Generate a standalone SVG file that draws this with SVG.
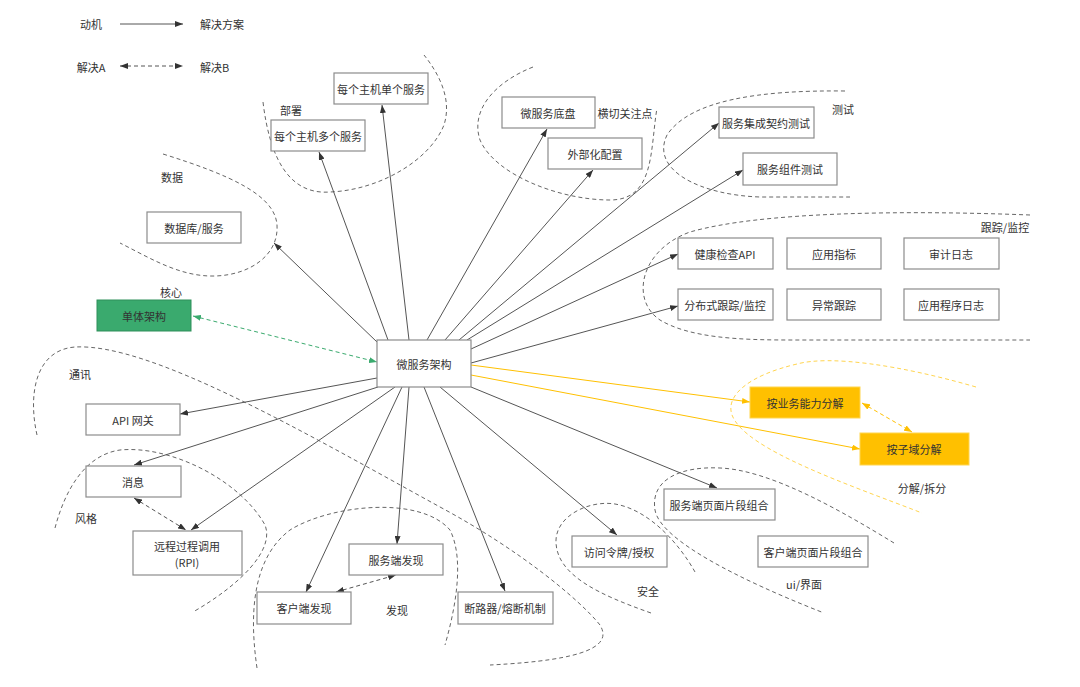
<svg xmlns="http://www.w3.org/2000/svg" width="1080" height="687" viewBox="0 0 1080 687">
<style>
text{font-family:"Noto Sans CJK SC","Liberation Sans",sans-serif;font-size:11px;fill:#333;text-anchor:middle;dominant-baseline:central}
.box{fill:#fff;stroke:#8c8c8c;stroke-width:1.2}
.green{fill:#3aaa6e;stroke:#2f8f5a;stroke-width:1}
.yellow{fill:#ffc000;stroke:#ffd54f;stroke-width:1}
.ln{stroke:#555;stroke-width:1;fill:none;marker-end:url(#ab)}
.dl{stroke:#555;stroke-width:1;fill:none;stroke-dasharray:4,3;marker-end:url(#ab);marker-start:url(#ab)}
.yl{stroke:#ffc000;stroke-width:1;fill:none;marker-end:url(#ay)}
.ydl{stroke:#ffc000;stroke-width:1;fill:none;stroke-dasharray:4,3;marker-end:url(#ay);marker-start:url(#ay)}
.gdl{stroke:#3aaa6e;stroke-width:1;fill:none;stroke-dasharray:4,3;marker-end:url(#ag);marker-start:url(#ag)}
.reg{stroke:#666;stroke-width:1;fill:none;stroke-dasharray:4,3}
.yreg{stroke:#ffd54f;stroke-width:1;fill:none;stroke-dasharray:4,3}
</style>
<defs>
<marker id="ab" viewBox="0 0 8 6" refX="8" refY="3" markerWidth="8" markerHeight="6" markerUnits="userSpaceOnUse" orient="auto-start-reverse"><path d="M0,0 L8,3 L0,6 z" fill="#333"/></marker>
<marker id="ay" viewBox="0 0 8 6" refX="8" refY="3" markerWidth="8" markerHeight="6" markerUnits="userSpaceOnUse" orient="auto-start-reverse"><path d="M0,0 L8,3 L0,6 z" fill="#ffc000"/></marker>
<marker id="ag" viewBox="0 0 8 6" refX="8" refY="3" markerWidth="8" markerHeight="6" markerUnits="userSpaceOnUse" orient="auto-start-reverse"><path d="M0,0 L8,3 L0,6 z" fill="#3aaa6e"/></marker>
</defs>
<rect width="1080" height="687" fill="#fff"/>

<g id="legend">
<text x="91" y="24">动机</text>
<line x1="120" y1="24" x2="183" y2="24" class="ln"/>
<text x="200" y="24" style="text-anchor:start">解决方案</text>
<text x="91" y="67">解决A</text>
<line x1="120" y1="66" x2="183" y2="66" class="dl"/>
<text x="200" y="67" style="text-anchor:start">解决B</text>
</g>

<g id="regions">
<path class="reg" d="M263,102 C270,160 290,195 330,192 C380,190 430,160 444,125 C452,100 440,75 424,55"/>
<path class="reg" d="M163,154 C230,175 275,195 277,225 C279,255 250,275 215,276 C180,277 150,258 120,243"/>
<path class="reg" d="M533,67 C495,82 470,110 480,140 C495,175 560,200 610,200 C655,200 650,150 657,108"/>
<path class="reg" d="M845,91 C760,90 690,100 667,135 C650,170 700,195 760,197 L850,197"/>
<path class="reg" d="M1030,215 C900,210 760,212 690,232 C640,250 630,300 660,320 C690,338 740,340 790,340 L1030,340"/>
<path class="reg" d="M37,435 C28,395 35,350 75,347 C150,343 300,430 440,507 C520,550 580,600 600,625 C612,645 590,660 490,665"/>
<path class="reg" d="M55,528 C65,490 85,455 120,450 C170,445 240,480 265,525 C275,550 240,585 193,612"/>
<path class="reg" d="M257,668 C250,620 250,560 290,530 C330,505 420,495 450,530 C465,560 455,610 445,645"/>
<path class="reg" d="M651,613 C600,595 555,575 556,540 C557,515 590,500 615,504 C650,510 680,545 695,572"/>
<path class="reg" d="M894,543 C840,510 770,470 720,468 C680,466 650,480 655,510 C660,540 740,580 824,613"/>
<path class="yreg" d="M976,387 C900,365 830,355 797,364 C750,375 725,395 732,415 C745,450 850,485 922,513"/>
</g>

<g id="labels">
<text x="291" y="110">部署</text>
<text x="172" y="177">数据</text>
<text x="625" y="113">横切关注点</text>
<text x="843" y="109">测试</text>
<text x="1005" y="227">跟踪/监控</text>
<text x="171" y="292">核心</text>
<text x="80" y="374">通讯</text>
<text x="86" y="518">风格</text>
<text x="397" y="610">发现</text>
<text x="648" y="591">安全</text>
<text x="804" y="584">ui/界面</text>
<text x="922" y="488">分解/拆分</text>
</g>

<g id="connectors">
<line x1="409" y1="340" x2="382" y2="105" class="ln"/>
<line x1="388" y1="340" x2="319" y2="152" class="ln"/>
<line x1="377" y1="342" x2="274" y2="243" class="ln"/>
<line x1="427" y1="340" x2="547" y2="129" class="ln"/>
<line x1="445" y1="340" x2="593" y2="170" class="ln"/>
<line x1="459" y1="340" x2="719" y2="123" class="ln"/>
<line x1="467" y1="340" x2="743" y2="170" class="ln"/>
<line x1="471" y1="349" x2="678" y2="254" class="ln"/>
<line x1="471" y1="363" x2="678" y2="306" class="ln"/>
<line x1="471" y1="365" x2="750" y2="402" class="yl"/>
<line x1="471" y1="375" x2="860" y2="449" class="yl"/>
<line x1="862" y1="403" x2="912" y2="432" class="ydl"/>
<line x1="471" y1="387" x2="717" y2="488" class="ln"/>
<line x1="440" y1="387" x2="617" y2="535" class="ln"/>
<line x1="424" y1="387" x2="505" y2="591" class="ln"/>
<line x1="409" y1="387" x2="397" y2="544" class="ln"/>
<line x1="402" y1="387" x2="306" y2="592" class="ln"/>
<line x1="336" y1="592" x2="396" y2="575" class="dl"/>
<line x1="395" y1="387" x2="191" y2="530" class="ln"/>
<line x1="378" y1="387" x2="134" y2="465" class="ln"/>
<line x1="134" y1="498" x2="186" y2="530" class="dl"/>
<line x1="377" y1="378" x2="180" y2="414" class="ln"/>
<line x1="193" y1="316" x2="377" y2="362" class="gdl"/>
</g>

<g id="center"><rect class="box" x="377" y="340" width="94" height="47"/><text x="424" y="364">微服务架构</text></g>
<g id="single"><rect class="box" x="334" y="73" width="94" height="31"/><text x="381" y="89">每个主机单个服务</text></g>
<g id="multi"><rect class="box" x="271" y="120" width="94" height="31"/><text x="318" y="136">每个主机多个服务</text></g>
<g id="db"><rect class="box" x="147" y="212" width="94" height="31"/><text x="194" y="228">数据库/服务</text></g>
<g id="mono"><rect class="green" x="97" y="300" width="94" height="31"/><text x="144" y="316">单体架构</text></g>
<g id="chassis"><rect class="box" x="502" y="97" width="93" height="31"/><text x="548" y="113">微服务底盘</text></g>
<g id="extcfg"><rect class="box" x="548" y="138" width="94" height="31"/><text x="595" y="154">外部化配置</text></g>
<g id="contract"><rect class="box" x="719" y="107" width="95" height="31"/><text x="766" y="123">服务集成契约测试</text></g>
<g id="comptest"><rect class="box" x="743" y="153" width="94" height="32"/><text x="790" y="169">服务组件测试</text></g>
<g id="health"><rect class="box" x="678" y="238" width="95" height="31"/><text x="725" y="254">健康检查API</text></g>
<g id="metrics"><rect class="box" x="787" y="238" width="94" height="31"/><text x="834" y="254">应用指标</text></g>
<g id="audit"><rect class="box" x="904" y="238" width="95" height="31"/><text x="951" y="254">审计日志</text></g>
<g id="tracing"><rect class="box" x="678" y="289" width="95" height="31"/><text x="725" y="305">分布式跟踪/监控</text></g>
<g id="exception"><rect class="box" x="787" y="289" width="94" height="31"/><text x="834" y="305">异常跟踪</text></g>
<g id="applog"><rect class="box" x="904" y="289" width="95" height="31"/><text x="951" y="305">应用程序日志</text></g>
<g id="bycap"><rect class="yellow" x="750" y="387" width="110" height="31"/><text x="805" y="403">按业务能力分解</text></g>
<g id="bysub"><rect class="yellow" x="860" y="433" width="109" height="32"/><text x="914" y="449">按子域分解</text></g>
<g id="ssfrag"><rect class="box" x="664" y="489" width="111" height="31"/><text x="719" y="505">服务端页面片段组合</text></g>
<g id="csfrag"><rect class="box" x="758" y="536" width="110" height="31"/><text x="813" y="552">客户端页面片段组合</text></g>
<g id="token"><rect class="box" x="572" y="536" width="95" height="31"/><text x="619" y="552">访问令牌/授权</text></g>
<g id="breaker"><rect class="box" x="458" y="592" width="95" height="32"/><text x="505" y="608">断路器/熔断机制</text></g>
<g id="ssdisc"><rect class="box" x="349" y="544" width="94" height="31"/><text x="396" y="560">服务端发现</text></g>
<g id="csdisc"><rect class="box" x="257" y="592" width="94" height="32"/><text x="304" y="608">客户端发现</text></g>
<g id="rpc"><rect class="box" x="133" y="531" width="109" height="44"/><text x="187" y="546">远程过程调用</text><text x="187" y="562">(RPI)</text></g>
<g id="msg"><rect class="box" x="86" y="466" width="95" height="31"/><text x="133" y="482">消息</text></g>
<g id="gateway"><rect class="box" x="86" y="404" width="94" height="31"/><text x="133" y="420">API 网关</text></g>
</svg>
